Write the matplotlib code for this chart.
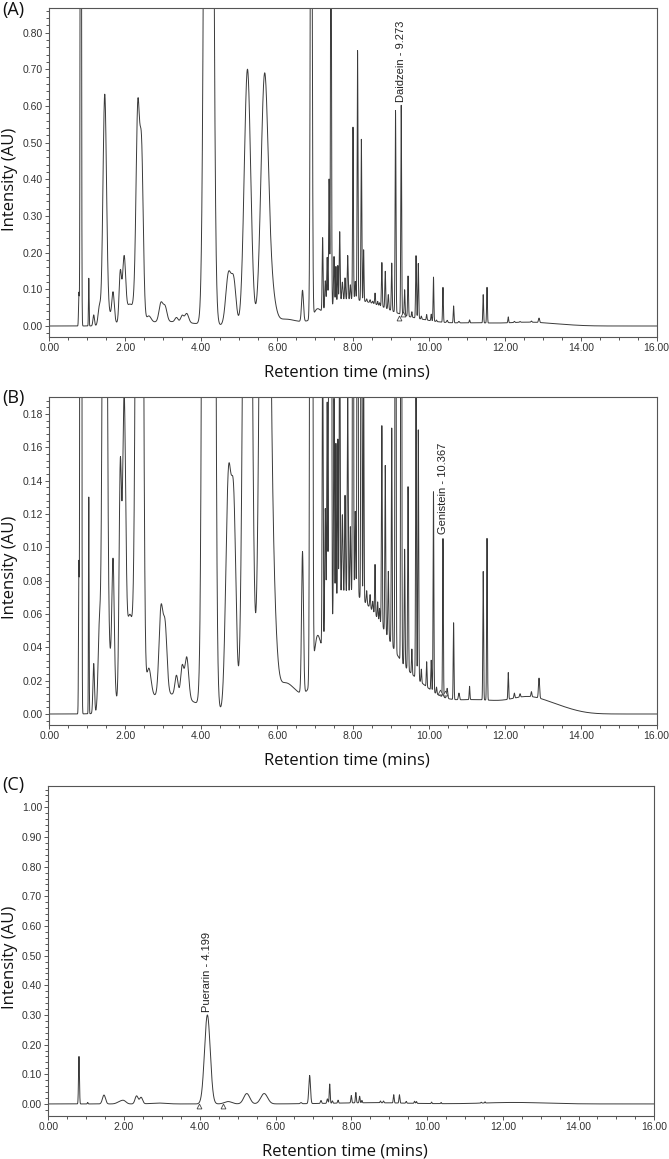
import numpy as np
import matplotlib
matplotlib.use("Agg")
import matplotlib.pyplot as plt
from matplotlib.ticker import MultipleLocator, FormatStrFormatter

# ---------------- data ----------------
# Sample chromatogram shown in panels A and B: peak retention time (min), height (AU), width sigma (min)
ab_rt = [0.78, 0.83, 1.04, 1.17, 1.32, 1.46, 1.60, 1.68, 1.87, 1.97, 2.12, 2.25, 2.33, 2.43,
         2.62, 2.94, 3.05, 3.10, 3.35, 3.50, 3.62, 4.20, 4.72, 4.86, 5.22, 5.67, 5.85, 6.20,
         6.67, 6.90, 7.05,
         7.20, 7.27, 7.32, 7.37, 7.42, 7.50, 7.55, 7.60, 7.65, 7.72, 7.79, 7.86, 7.93, 8.00,
         8.06, 8.12, 8.22, 8.28, 8.36, 8.45, 8.52, 8.58, 8.65, 8.70, 8.76, 8.85, 8.93, 9.02,
         9.12, 9.27, 9.36, 9.45, 9.55, 9.66, 9.72, 9.80, 9.94, 10.06, 10.12, 10.20, 10.37,
         10.48, 10.65, 10.79, 11.07, 11.43, 11.53, 12.09, 12.25, 12.40, 12.70, 12.90,
         7.70, 8.60, 9.60, 11.20, 12.60, 13.30]
ab_height = [0.09, 3.2, 0.13, 0.03, 0.05, 0.62, 0.03, 0.07, 0.14, 0.17, 0.055, 0.03, 0.56, 0.46,
             0.018, 0.05, 0.04, 0.012, 0.012, 0.018, 0.025, 6.0, 0.14, 0.115, 0.70, 0.67, 0.08, 0.018,
             0.085, 1.9, 0.02,
             0.20, 0.08, 0.14, 0.35, 1.3, 0.13, 0.10, 0.10, 0.19, 0.05, 0.06, 0.12, 0.04, 0.47,
             0.05, 0.68, 0.44, 0.14, 0.008, 0.008, 0.006, 0.03, 0.01, 0.008, 0.12, 0.10, 0.04, 0.13,
             0.55, 0.57, 0.07, 0.11, 0.015, 0.17, 0.15, 0.008, 0.015, 0.018, 0.12, 0.004, 0.095,
             0.006, 0.046, 0.004, 0.008, 0.077, 0.097, 0.016, 0.003, 0.002, 0.003, 0.012,
             0.06, 0.045, 0.015, 0.0085, 0.0065, 0.004]
ab_sigma = [0.010, 0.013, 0.008, 0.020, 0.035, 0.047, 0.10, 0.030, 0.032, 0.040, 0.10, 0.04, 0.045, 0.045,
            0.06, 0.05, 0.05, 0.70, 0.04, 0.04, 0.05, 0.075, 0.07, 0.06, 0.085, 0.095, 0.10, 0.30,
            0.025, 0.022, 0.08,
            0.012, 0.015, 0.012, 0.012, 0.012, 0.012, 0.010, 0.010, 0.012, 0.015, 0.012, 0.012, 0.012, 0.011,
            0.012, 0.011, 0.011, 0.010, 0.012, 0.012, 0.012, 0.010, 0.010, 0.010, 0.011, 0.011, 0.012, 0.011,
            0.011, 0.011, 0.011, 0.011, 0.010, 0.011, 0.011, 0.010, 0.010, 0.010, 0.010, 0.010, 0.010,
            0.015, 0.010, 0.015, 0.010, 0.010, 0.010, 0.010, 0.012, 0.012, 0.012, 0.015,
            0.50, 0.50, 0.50, 0.90, 0.45, 0.50]

# Chromatogram shown in panel C
c_rt = [0.81, 1.04, 1.47, 1.90, 2.00, 2.33, 2.45, 2.90, 4.20, 4.75, 5.24, 5.70, 6.67, 6.90,
        7.20, 7.37, 7.43, 7.50, 7.65, 8.00, 8.12, 8.22, 8.28, 8.77, 8.85, 9.12, 9.27, 9.45,
        9.67, 9.72, 10.12, 10.37, 11.43, 11.53, 8.50, 12.30]
c_height = [0.16, 0.005, 0.03, 0.008, 0.008, 0.027, 0.022, 0.003, 0.30, 0.008, 0.035, 0.035, 0.004, 0.095,
            0.01, 0.015, 0.065, 0.008, 0.01, 0.025, 0.035, 0.022, 0.008, 0.006, 0.006, 0.028, 0.028, 0.006,
            0.007, 0.006, 0.005, 0.004, 0.003, 0.004, 0.004, 0.005]
c_sigma = [0.012, 0.010, 0.040, 0.080, 0.060, 0.040, 0.040, 0.200, 0.075, 0.100, 0.080, 0.090, 0.020, 0.022,
           0.015, 0.015, 0.012, 0.012, 0.012, 0.012, 0.012, 0.012, 0.010, 0.012, 0.012, 0.012, 0.012, 0.012,
           0.012, 0.012, 0.010, 0.010, 0.010, 0.010, 1.00, 0.80]

# annotations
ann_a = ("Daidzein - 9.273", 9.273, 0.61)
ann_b = ("Genistein - 10.367", 10.367, 0.108)
ann_c = ("Puerarin - 4.199", 4.199, 0.31)
marks_a = ([9.21, 9.33], [0.023, 0.032])
marks_b = ([10.28, 10.43], [0.013, 0.0126])
marks_c = ([3.98, 4.60], [-0.008, -0.008])

panel_labels = ["(A)", "(B)", "(C)"]
x_label = "Retention time (mins)"
y_label = "Intensity (AU)"

# ---------------- build traces ----------------
t = np.linspace(0, 16, 16001)


def trace(rt, h, s):
    y = np.zeros_like(t)
    for r, hh, ss in zip(rt, h, s):
        y += hh * np.exp(-0.5 * ((t - r) / ss) ** 2)
    return y


y_ab = trace(ab_rt, ab_height, ab_sigma)
y_c = trace(c_rt, c_height, c_sigma)

# ---------------- figure ----------------
fig = plt.figure(figsize=(6.69, 11.59), dpi=100)
W, H = 669, 1159

tick_font = ['Liberation Sans Narrow', 'Liberation Sans', 'DejaVu Sans']
lab_font = ['Open Sans', 'DejaVu Sans']
ann_font = ['Liberation Sans', 'DejaVu Sans']

# (left, top, right, bottom) in pixels
boxes = [(49.3, 8.0, 656.7, 337.0), (49.3, 397.3, 656.7, 725.0), (48.3, 785.7, 654.3, 1115.5)]
ylims = [(-0.030, 0.867), (-0.0066, 0.190), (-0.039, 1.073)]
ymaj = [0.10, 0.02, 0.10]
ymin = [0.02, 0.004, 0.02]
ymax_lab = [0.80, 0.18, 1.00]
label_y = [10, 398, 785]
series = [y_ab, y_ab, y_c]
anns = [ann_a, ann_b, ann_c]
marks = [marks_a, marks_b, marks_c]

line_col = '#3a3a3a'
frame_col = '#555555'

for i in range(3):
    l, tp, r, b = boxes[i]
    ax = fig.add_axes([l / W, 1 - b / H, (r - l) / W, (b - tp) / H])
    ax.plot(t, series[i], color=line_col, lw=0.7)
    ax.set_xlim(0, 16)
    ax.set_ylim(*ylims[i])
    ax.xaxis.set_major_locator(MultipleLocator(2))
    ax.xaxis.set_minor_locator(MultipleLocator(0.5))
    ax.xaxis.set_major_formatter(FormatStrFormatter('%.2f'))
    ticks = np.arange(0, ymax_lab[i] + 1e-9, ymaj[i])
    ax.set_yticks(ticks)
    ax.yaxis.set_minor_locator(MultipleLocator(ymin[i]))
    ax.yaxis.set_major_formatter(FormatStrFormatter('%.2f'))
    for s in ax.spines.values():
        s.set_color(frame_col)
        s.set_linewidth(0.8)
    ax.tick_params(which='both', direction='out', color=frame_col, width=0.7,
                   labelsize=7.5, labelcolor='#333333', pad=1.5)
    ax.tick_params(which='major', length=3)
    ax.tick_params(which='minor', length=2.5)
    for lab in ax.get_xticklabels() + ax.get_yticklabels():
        lab.set_family(tick_font)
    ax.set_xlabel(x_label, fontsize=12, family=lab_font, color='#111111')
    ax.set_ylabel(y_label, fontsize=12, family=lab_font, color='#111111')
    ax.xaxis.set_label_coords(0.49, -0.109)
    ax.yaxis.set_label_coords(-0.064, 0.48)
    ax.xaxis.label.set_va('center')
    ax.yaxis.label.set_va('center')
    txt, tx, ty = anns[i]
    ax.text(tx, ty, txt, rotation=90, ha='center', va='bottom', fontsize=8,
            family=ann_font, color='#222222')
    mx, my = marks[i]
    ax.plot(mx, my, linestyle='none', marker='^', markersize=3.5, markerfacecolor='white',
            markeredgecolor='#444444', markeredgewidth=0.6)
    fig.text(2 / W, 1 - label_y[i] / H, panel_labels[i], fontsize=13, family=lab_font,
             ha='left', va='center', color='#111111')

fig.savefig('out.png', dpi=100)
